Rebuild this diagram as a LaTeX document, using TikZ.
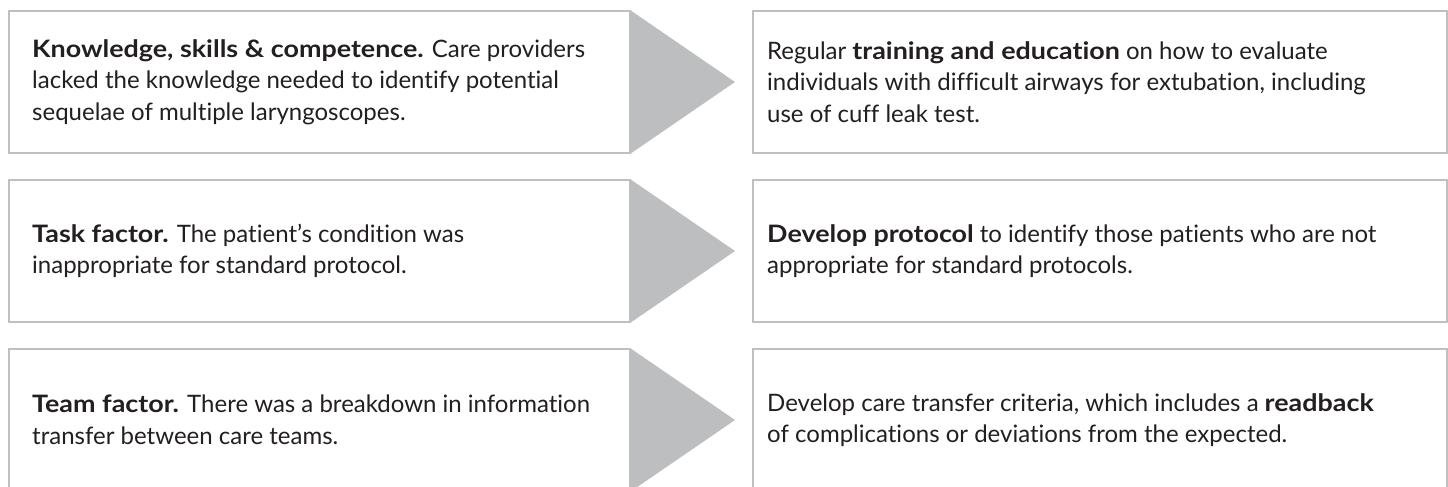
\documentclass[tikz,border=0pt]{standalone}
\usepackage{fontspec}
\setmainfont{Lato}[RawFeature={-liga;-dlig;-calt;-clig},BoldFeatures={FakeStretch=1.12}]
\definecolor{boxline}{HTML}{C0C0C0}
\definecolor{arrowfill}{HTML}{BCBEC0}
\definecolor{txt}{HTML}{231F20}
\tikzset{
  causebox/.style={draw=boxline, line width=2pt, fill=white, anchor=north west,
    minimum width=621pt, minimum height=142pt, inner sep=0pt},
  actionbox/.style={draw=boxline, line width=2pt, fill=white, anchor=north west,
    minimum width=694pt, minimum height=142pt, inner sep=0pt},
  boxtext/.style={anchor=west, inner sep=0pt, align=left, text=txt,
    font=\fontsize{24}{31.5}\selectfont},
  chevron/.style={fill=arrowfill, draw=none}
}
\begin{document}
\begin{tikzpicture}[x=1pt,y=-1pt]
\useasboundingbox (0,0) rectangle (1448,487);
\clip (0,0) rectangle (1448,487);
% boxes
\node[causebox] (c1) at (8,10) {};
\node[causebox] (c2) at (8,179) {};
\node[causebox] (c3) at (8,348) {};
\node[actionbox] (a1) at (752,10) {};
\node[actionbox] (a2) at (752,179) {};
\node[actionbox] (a3) at (752,348) {};
% chevrons
\foreach \n in {c1,c2,c3}{
  \fill[chevron] ([xshift=-1pt]\n.north east) -- ([xshift=104pt]\n.east) -- ([xshift=-1pt]\n.south east) -- cycle;
}
% texts
\node[boxtext] (t1) at ([xshift=24pt]c1.west) {\textbf{Knowledge, skills \& competence.} Care providers\\lacked the knowledge needed to identify potential\\sequelae of multiple laryngoscopes.};
\node[boxtext] (t2) at ([xshift=24pt]c2.west) {\textbf{Task factor.} The patient’s condition was\\inappropriate for standard protocol.};
\node[boxtext] (t3) at ([xshift=24pt]c3.west) {\textbf{Team factor.} There was a breakdown in information\\transfer between care teams.};
\node[boxtext] (u1) at ([xshift=15pt]a1.west) {Regular \textbf{training and education} on how to evaluate\\individuals with difficult airways for extubation, including\\use of cuff leak test.};
\node[boxtext] (u2) at ([xshift=15pt]a2.west) {\textbf{Develop protocol} to identify those patients who are not\\appropriate for standard protocols.};
\node[boxtext] (u3) at ([xshift=15pt]a3.west) {Develop care transfer criteria, which includes a \textbf{readback}\\of complications or deviations from the expected.};
\end{tikzpicture}
\end{document}
